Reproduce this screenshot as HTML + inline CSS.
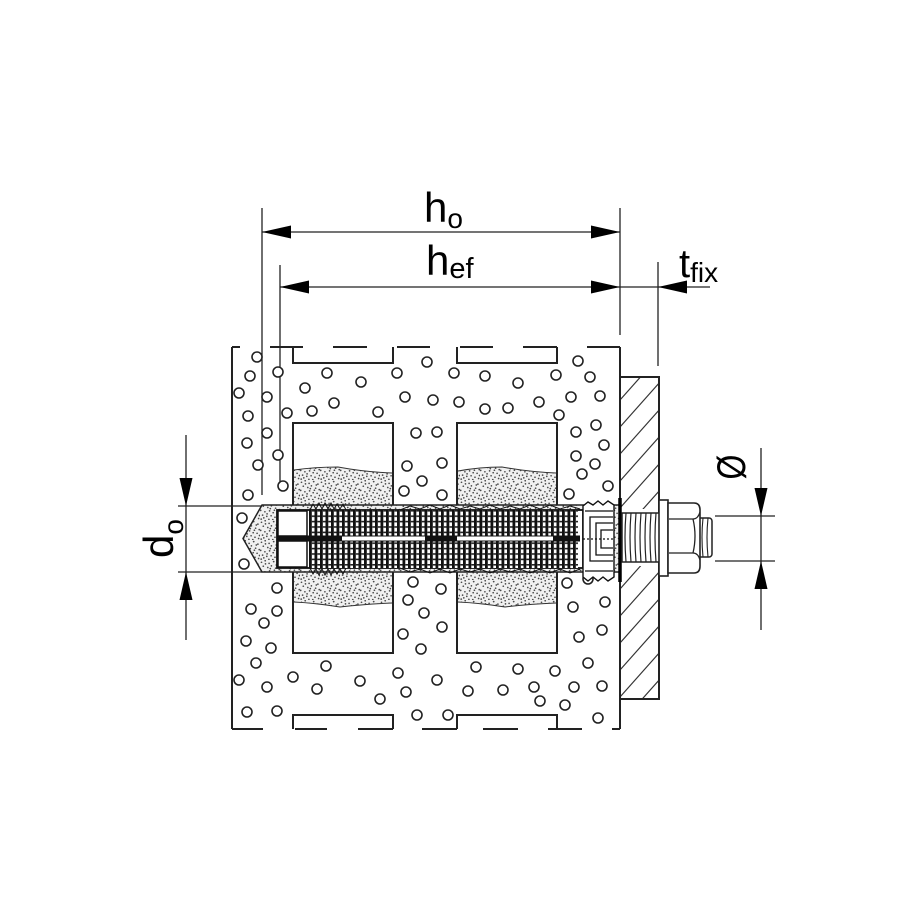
<!DOCTYPE html>
<html><head><meta charset="utf-8"><style>html,body{margin:0;padding:0;background:#fff}svg{display:block}</style></head>
<body>
<svg width="912" height="912" viewBox="0 0 912 912" xmlns="http://www.w3.org/2000/svg">
<defs>
<pattern id="st" width="20" height="20" patternUnits="userSpaceOnUse">
<rect width="20" height="20" fill="#f0f0f0"/>
<g fill="#4a4a4a">
<circle cx="1.5" cy="2.3" r="0.85"/><circle cx="5.2" cy="0.8" r="0.85"/><circle cx="9.1" cy="3.4" r="0.85"/><circle cx="13.7" cy="1.6" r="0.85"/><circle cx="17.9" cy="4.1" r="0.85"/><circle cx="3.3" cy="6.2" r="0.85"/><circle cx="7.8" cy="7.5" r="0.85"/><circle cx="11.4" cy="5.9" r="0.85"/><circle cx="15.6" cy="8.2" r="0.85"/><circle cx="19.2" cy="9.6" r="0.85"/><circle cx="0.7" cy="10.4" r="0.85"/><circle cx="4.9" cy="11.8" r="0.85"/><circle cx="9.6" cy="10.9" r="0.85"/><circle cx="13.2" cy="12.7" r="0.85"/><circle cx="17.1" cy="13.3" r="0.85"/><circle cx="2.6" cy="15.1" r="0.85"/><circle cx="6.8" cy="16.4" r="0.85"/><circle cx="11.1" cy="15.8" r="0.85"/><circle cx="15.0" cy="17.2" r="0.85"/><circle cx="18.6" cy="18.5" r="0.85"/><circle cx="1.2" cy="19.1" r="0.85"/><circle cx="8.9" cy="19.3" r="0.85"/><circle cx="12.8" cy="19.6" r="0.85"/><circle cx="5.5" cy="3.9" r="0.85"/><circle cx="16.3" cy="5.0" r="0.85"/><circle cx="7.1" cy="13.9" r="0.85"/><circle cx="19.5" cy="15.5" r="0.85"/><circle cx="14.4" cy="10.2" r="0.85"/><circle cx="3.8" cy="17.9" r="0.85"/><circle cx="10.3" cy="8.6" r="0.85"/>
</g>
</pattern>
<pattern id="rib" x="309" y="510" width="5.5" height="5.4" patternUnits="userSpaceOnUse">
<rect width="5.5" height="5.4" fill="#fff"/>
<rect width="2.8" height="5.4" fill="#111"/>
<rect x="2.8" y="0" width="2.7" height="1.6" fill="#222"/>
</pattern>
<clipPath id="pc"><path d="M621 378H658V509H621Z M621 566H658V698H621Z"/></clipPath>
</defs>

<!-- Dimension lines -->
<g stroke="#222" stroke-width="1.3" fill="none">
<line x1="262" y1="208" x2="262" y2="495"/>
<line x1="280" y1="265" x2="280" y2="488"/>
<line x1="620" y1="208" x2="620" y2="335"/>
<line x1="658" y1="262" x2="658" y2="366"/>
<line x1="262" y1="232" x2="620" y2="232"/>
<line x1="280" y1="287" x2="710" y2="287"/>
<line x1="186" y1="435" x2="186" y2="640"/>
<line x1="178" y1="506" x2="262" y2="506"/>
<line x1="178" y1="572" x2="262" y2="572"/>
<line x1="761" y1="448" x2="761" y2="630"/>
<line x1="715" y1="516" x2="775" y2="516"/>
<line x1="715" y1="561" x2="775" y2="561"/>
</g>
<g fill="#000">
<polygon points="262,232 291,225.5 291,238.5"/>
<polygon points="620,232 591,225.5 591,238.5"/>
<polygon points="280,287 309,280.5 309,293.5"/>
<polygon points="620,287 591,280.5 591,293.5"/>
<polygon points="658,287 687,280.5 687,293.5"/>
<polygon points="186,506 179.5,478 192.5,478"/>
<polygon points="186,572 179.5,600 192.5,600"/>
<polygon points="761,516 754.5,488 767.5,488"/>
<polygon points="761,561 754.5,589 767.5,589"/>
</g>

<!-- Labels -->
<g font-family="Liberation Sans, sans-serif" fill="#000">
<text x="424" y="222" font-size="42">h<tspan font-size="28" dy="6">o</tspan></text>
<text x="426" y="275" font-size="42">h<tspan font-size="29" dy="3">ef</tspan></text>
<text x="679" y="277" font-size="40">t<tspan font-size="28" dy="5">fix</tspan></text>
<text transform="translate(173,558) rotate(-90)" font-size="42">d<tspan font-size="28" dy="10">o</tspan></text>
<text transform="translate(745,467) rotate(-90) scale(0.8,1)" font-size="40" text-anchor="middle">Ø</text>
</g>

<!-- Block outline -->
<g stroke="#222" stroke-width="2" fill="none">
<line x1="232" y1="347" x2="232" y2="729"/>
<line x1="620" y1="347" x2="620" y2="729"/>
<path d="M232 347H240 M270 347H303 M333 347H367 M397 347H430 M460 347H493 M523 347H557 M587 347H620"/>
<path d="M293 347V363H393V347 M457 347V363H557V347"/>
<path d="M232 729H263 M295 729H327 M358 729H393 M422 729H457 M483 729H518 M548 729H582 M612 729H620"/>
<path d="M293 729V715H393V729 M457 729V715H557V729"/>
</g>

<!-- Cavities -->
<path d="M294 470 Q315 467 338 467 Q365 472 392 473 V603 Q365 604 340 607 Q315 603 294 602 Z" fill="url(#st)"/>
<path d="M458 471 Q480 467 502 467 Q530 472 556 473 V603 Q530 604 505 607 Q480 603 458 602 Z" fill="url(#st)"/>
<g stroke="#333" stroke-width="1" fill="none">
<path d="M294 470 Q315 467 338 467 Q365 472 392 473"/>
<path d="M294 602 Q315 603 340 607 Q365 604 392 603"/>
<path d="M458 471 Q480 467 502 467 Q530 472 556 473"/>
<path d="M458 602 Q480 603 505 607 Q530 604 556 603"/>
</g>
<g stroke="#222" stroke-width="2" fill="none">
<rect x="293" y="423" width="100" height="230"/>
<rect x="457" y="423" width="100" height="230"/>
</g>

<!-- Aggregate circles -->
<g fill="#fff" stroke="#222" stroke-width="1.6">
<circle cx="257" cy="357" r="5"/><circle cx="250" cy="376" r="5"/><circle cx="278" cy="372" r="5"/><circle cx="239" cy="393" r="5"/><circle cx="267" cy="397" r="5"/><circle cx="327" cy="373" r="5"/><circle cx="305" cy="388" r="5"/><circle cx="361" cy="382" r="5"/><circle cx="397" cy="373" r="5"/><circle cx="427" cy="362" r="5"/><circle cx="454" cy="373" r="5"/><circle cx="485" cy="376" r="5"/><circle cx="518" cy="383" r="5"/><circle cx="556" cy="375" r="5"/><circle cx="578" cy="361" r="5"/><circle cx="590" cy="377" r="5"/>
<circle cx="248" cy="416" r="5"/><circle cx="287" cy="413" r="5"/><circle cx="312" cy="411" r="5"/><circle cx="334" cy="403" r="5"/><circle cx="378" cy="412" r="5"/><circle cx="405" cy="397" r="5"/><circle cx="433" cy="400" r="5"/><circle cx="459" cy="402" r="5"/><circle cx="485" cy="409" r="5"/><circle cx="508" cy="408" r="5"/><circle cx="539" cy="402" r="5"/><circle cx="571" cy="397" r="5"/><circle cx="600" cy="396" r="5"/><circle cx="559" cy="415" r="5"/>
<circle cx="267" cy="433" r="5"/><circle cx="247" cy="443" r="5"/><circle cx="278" cy="455" r="5"/><circle cx="258" cy="465" r="5"/><circle cx="416" cy="433" r="5"/><circle cx="437" cy="432" r="5"/><circle cx="576" cy="432" r="5"/><circle cx="596" cy="425" r="5"/><circle cx="604" cy="445" r="5"/><circle cx="576" cy="456" r="5"/><circle cx="595" cy="464" r="5"/><circle cx="582" cy="474" r="5"/><circle cx="407" cy="466" r="5"/><circle cx="442" cy="463" r="5"/><circle cx="422" cy="481" r="5"/><circle cx="283" cy="486" r="5"/><circle cx="248" cy="495" r="5"/><circle cx="404" cy="491" r="5"/><circle cx="442" cy="495" r="5"/><circle cx="569" cy="494" r="5"/><circle cx="608" cy="486" r="5"/>
<circle cx="242" cy="518" r="5"/><circle cx="244" cy="564" r="5"/>
<circle cx="277" cy="588" r="5"/><circle cx="251" cy="609" r="5"/><circle cx="277" cy="611" r="5"/><circle cx="264" cy="623" r="5"/><circle cx="246" cy="641" r="5"/><circle cx="271" cy="648" r="5"/><circle cx="256" cy="663" r="5"/><circle cx="239" cy="680" r="5"/><circle cx="267" cy="687" r="5"/><circle cx="293" cy="677" r="5"/><circle cx="326" cy="666" r="5"/><circle cx="317" cy="689" r="5"/><circle cx="360" cy="681" r="5"/><circle cx="398" cy="673" r="5"/><circle cx="380" cy="699" r="5"/><circle cx="406" cy="692" r="5"/><circle cx="437" cy="680" r="5"/><circle cx="413" cy="582" r="5"/><circle cx="441" cy="589" r="5"/><circle cx="408" cy="600" r="5"/><circle cx="424" cy="613" r="5"/><circle cx="442" cy="627" r="5"/><circle cx="403" cy="634" r="5"/><circle cx="421" cy="649" r="5"/><circle cx="476" cy="667" r="5"/><circle cx="518" cy="669" r="5"/><circle cx="555" cy="671" r="5"/><circle cx="588" cy="663" r="5"/><circle cx="468" cy="691" r="5"/><circle cx="503" cy="690" r="5"/><circle cx="534" cy="687" r="5"/><circle cx="540" cy="701" r="5"/><circle cx="565" cy="705" r="5"/><circle cx="574" cy="687" r="5"/><circle cx="602" cy="686" r="5"/><circle cx="247" cy="712" r="5"/><circle cx="277" cy="711" r="5"/><circle cx="417" cy="715" r="5"/><circle cx="448" cy="715" r="5"/><circle cx="598" cy="718" r="5"/><circle cx="567" cy="583" r="5"/><circle cx="588" cy="579" r="5"/><circle cx="573" cy="607" r="5"/><circle cx="605" cy="602" r="5"/><circle cx="579" cy="637" r="5"/><circle cx="602" cy="630" r="5"/>
</g>

<!-- Drill hole with mortar -->
<polygon points="620,505 262,505 243,538.5 262,572 620,572" fill="url(#st)" stroke="#222" stroke-width="1.5"/>

<!-- Sleeve -->
<rect x="277" y="510" width="306" height="58" fill="#fff" stroke="#111" stroke-width="1.8"/>
<rect x="309" y="510" width="269" height="58" fill="url(#rib)"/>
<g stroke="#111" stroke-width="1.5" fill="#fff">
<rect x="278" y="511" width="29" height="25"/>
<rect x="278" y="541" width="29" height="26"/>
</g>
<rect x="277" y="536" width="301" height="5" fill="#fff"/>
<g fill="#111">
<rect x="277" y="536.5" width="65" height="4"/>
<rect x="425" y="536.5" width="32" height="4"/>
<rect x="553" y="536.5" width="27" height="4"/>
</g>
<g stroke="#111" stroke-width="1" fill="none">
<line x1="277" y1="536" x2="580" y2="536"/>
<line x1="277" y1="541" x2="580" y2="541"/>
<polyline points="310,510 313,504 316,509 319,503 322,509 325,503 328,509 331,503 334,509 337,504 340,509 343,504 346,510"/>
<polyline points="310,568 313,574 316,569 319,575 322,569 325,575 328,569 331,575 334,569 337,574 340,569 343,574 346,568"/>
<polyline points="400,510 410,506 420,509 430,505 440,509 450,505 460,509 470,506 480,509 490,505 500,509 510,506 520,509 530,505 540,509 550,505 560,509 570,506 580,509"/>
<polyline points="400,568 410,572 420,569 430,573 440,569 450,573 460,569 470,572 480,569 490,573 500,569 510,572 520,569 530,573 540,569 550,573 560,569 570,573 580,569"/>
</g>
<!-- Sleeve head -->
<g stroke="#111" stroke-width="1.4" fill="#fff">
<path d="M583 506 L588 502 L593 505 L598 501 L603 505 L608 501 L614 505 V577 L608 581 L603 577 L598 581 L593 577 L588 581 L583 577 Z"/>
</g>
<g stroke="#111" stroke-width="1.3" fill="none">
<line x1="585" y1="511" x2="613" y2="511"/>
<line x1="585" y1="571" x2="613" y2="571"/>
<path d="M613 517 H590 V561 H613"/>
<path d="M613 523 H596 V555 H613"/>
<path d="M613 530 H601 V548 H613"/>
<line x1="583" y1="539" x2="613" y2="539" stroke-dasharray="2 2"/>
</g>

<!-- Fixture plate -->
<rect x="620" y="377" width="39" height="322" fill="#fff" stroke="#222" stroke-width="2"/>
<g clip-path="url(#pc)" stroke="#333" stroke-width="1.2">
<line x1="620" y1="400" x2="660" y2="355"/><line x1="620" y1="427" x2="660" y2="382"/><line x1="620" y1="454" x2="660" y2="409"/><line x1="620" y1="481" x2="660" y2="436"/><line x1="620" y1="508" x2="660" y2="463"/><line x1="620" y1="535" x2="660" y2="490"/><line x1="620" y1="562" x2="660" y2="517"/><line x1="620" y1="589" x2="660" y2="544"/><line x1="620" y1="616" x2="660" y2="571"/><line x1="620" y1="643" x2="660" y2="598"/><line x1="620" y1="670" x2="660" y2="625"/><line x1="620" y1="697" x2="660" y2="652"/><line x1="620" y1="724" x2="660" y2="679"/><line x1="620" y1="751" x2="660" y2="706"/>
</g>
<line x1="620" y1="498" x2="620" y2="582" stroke="#000" stroke-width="3.5"/>

<!-- Threaded rod -->
<rect x="622" y="513" width="40" height="49" fill="#fff" stroke="#222" stroke-width="1.5"/>
<g stroke="#222" stroke-width="1.2" fill="none">
<path d="M626 513 q-2 24 0 49 M631 513 q-2 24 0 49 M636 513 q-2 24 0 49 M641 513 q-2 24 0 49 M646 513 q-2 24 0 49 M651 513 q-2 24 0 49 M656 513 q-2 24 0 49"/>
</g>
<!-- Washer -->
<rect x="659" y="500" width="9" height="76" fill="#fff" stroke="#222" stroke-width="1.6"/>
<!-- Rod end -->
<rect x="698" y="518" width="14" height="39" rx="3" fill="#fff" stroke="#222" stroke-width="1.5"/>
<g stroke="#222" stroke-width="1.1" fill="none">
<path d="M703 518 q-2 19 0 39 M708 518 q-2 19 0 39"/>
</g>
<!-- Nut -->
<path d="M668 503 H694 Q700 503 700 510 V566 Q700 573 694 573 H668 Z" fill="#fff" stroke="#222" stroke-width="1.6"/>
<g stroke="#222" stroke-width="1.3" fill="none">
<path d="M669 519 H693 Q698 519 700 512"/>
<path d="M669 553 H693 Q698 553 700 560"/>
<path d="M693 519 Q697 536 693 553"/>
</g>
</svg>
</body></html>
